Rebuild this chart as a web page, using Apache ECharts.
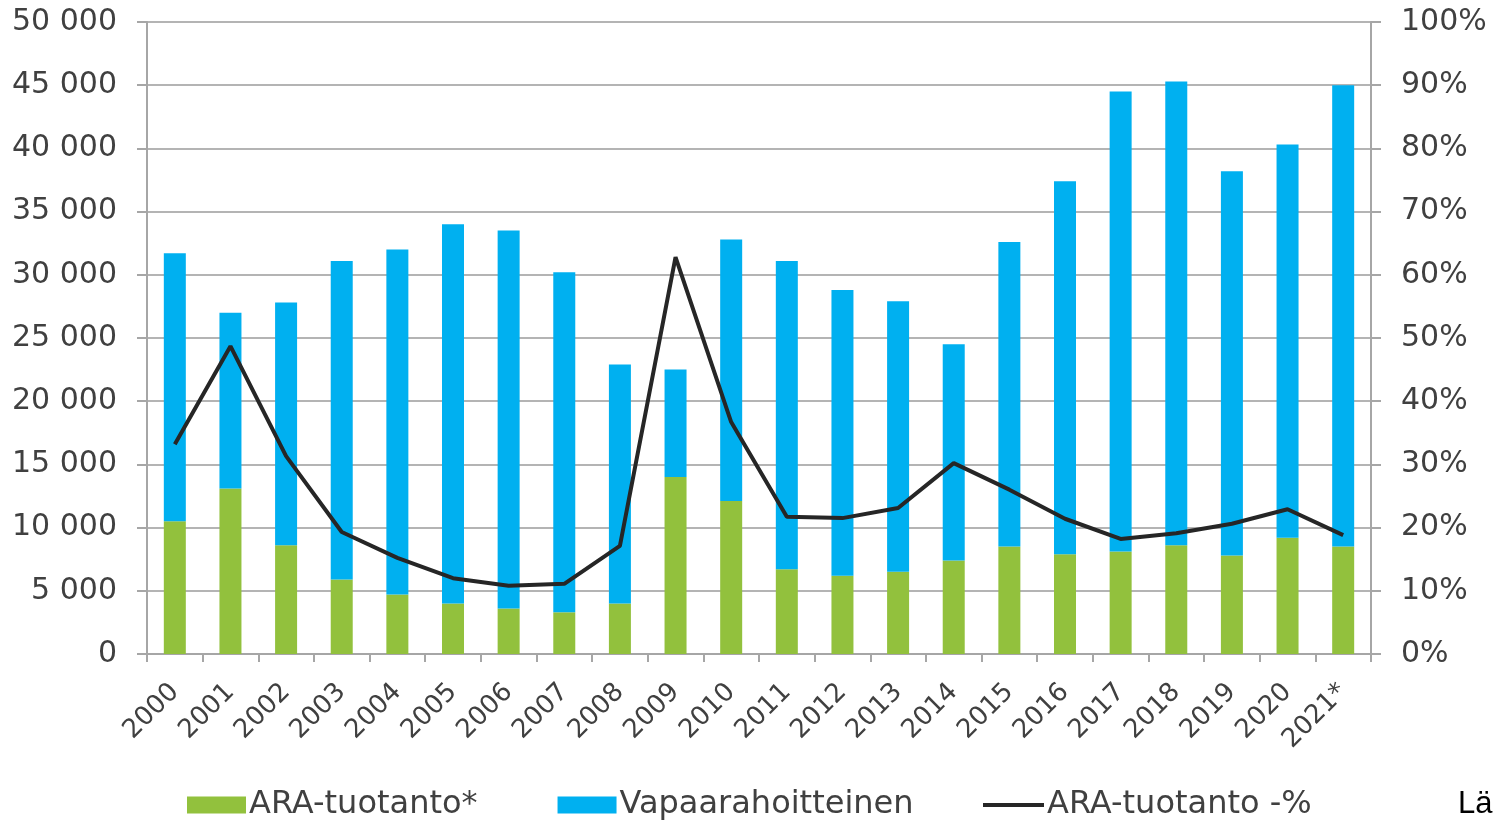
<!DOCTYPE html>
<html>
<head>
<meta charset="utf-8">
<script src="https://cdn.jsdelivr.net/npm/echarts@6/dist/echarts.min.js"></script>
<style>
  html, body { margin: 0; padding: 0; background: #fff; }
  #chart { width: 1494px; height: 821px; }
</style>
</head>
<body>
<div id="chart"></div>
<script>
// vuodet
const years = ['2000', '2001', '2002', '2003', '2004', '2005', '2006', '2007', '2008', '2009', '2010',
  '2011', '2012', '2013', '2014', '2015', '2016', '2017', '2018', '2019', '2020', '2021*']

// ARA-tuotanto (asuntoa)
const araValues = [10500, 13100, 8600, 5900, 4700, 4000, 3600, 3300, 4000, 14000, 12100,
  6700, 6200, 6500, 7400, 8500, 7900, 8100, 8600, 7800, 9200, 8500]

// koko tuotanto, pinon yläreuna
const totalValues = [31700, 27000, 27800, 31100, 32000, 34000, 33500, 30200, 22900, 22500, 32800,
  31100, 28800, 27900, 24500, 32600, 37400, 44500, 45300, 38200, 40300, 45000]

// vapaarahoitteinen = koko - ARA
const freeValues = totalValues.map((t, i) => t - araValues[i])

// ARA-osuus %
const araShare = [33.2, 48.7, 31.3, 19.3, 15.2, 12.0, 10.8, 11.1, 17.1, 62.8, 36.7,
  21.7, 21.5, 23.1, 30.2, 26.0, 21.4, 18.2, 19.1, 20.6, 22.9, 18.8]

const chart = echarts.init(document.getElementById('chart'))

const axisColor = '#a6a6a6'
const textColor = '#404040'
const font = 'DejaVu Sans'
const legendText = { fontSize: 32, color: textColor, fontFamily: font, padding: [0, 0, 0, -2] }

chart.setOption({
  animation: false,
  textStyle: { fontFamily: font },
  grid: { left: 147, right: 123, top: 22, bottom: 167, containLabel: false },
  legend: [
    {
      // pylväät
      top: 789,
      left: 187,
      padding: 0,
      itemWidth: 59,
      itemHeight: 17,
      itemGap: 80,
      textStyle: legendText,
      data: [
        { name: 'ARA-tuotanto*', icon: 'rect' },
        { name: 'Vapaarahoitteinen', icon: 'rect' }
      ]
    },
    {
      // viiva
      top: 789,
      left: 983,
      padding: 0,
      itemWidth: 61,
      itemHeight: 4,
      textStyle: legendText,
      data: [{ name: 'ARA-tuotanto -%', icon: 'rect' }]
    }
  ],
  xAxis: {
    type: 'category',
    data: years,
    axisLine: { lineStyle: { color: axisColor, width: 2 } },
    axisTick: { show: true, length: 8, lineStyle: { color: axisColor, width: 2 } },
    axisLabel: { rotate: 45, fontSize: 26, color: textColor, margin: 34, interval: 0 }
  },
  yAxis: [
    {
      type: 'value',
      min: 0,
      max: 50000,
      interval: 5000,
      axisLine: { show: true, lineStyle: { color: axisColor, width: 2 } },
      axisTick: { show: true, length: 10, lineStyle: { color: axisColor, width: 2 } },
      splitLine: { lineStyle: { color: '#b4b4b4', width: 2 } },
      axisLabel: {
        fontSize: 30,
        color: textColor,
        margin: 30,
        formatter: v => String(v).replace(/\B(?=(\d{3})+(?!\d))/g, ' ')
      }
    },
    {
      type: 'value',
      min: 0,
      max: 100,
      interval: 10,
      axisLine: { show: true, lineStyle: { color: axisColor, width: 2 } },
      axisTick: { show: true, length: 10, lineStyle: { color: axisColor, width: 2 } },
      splitLine: { show: false },
      axisLabel: { fontSize: 30, color: textColor, margin: 30, formatter: '{value}%' }
    }
  ],
  series: [
    {
      name: 'ARA-tuotanto*',
      type: 'bar',
      stack: 'tuotanto',
      barWidth: 22,
      itemStyle: { color: '#92c13d' },
      data: araValues
    },
    {
      name: 'Vapaarahoitteinen',
      type: 'bar',
      stack: 'tuotanto',
      barWidth: 22,
      itemStyle: { color: '#00b0f0' },
      data: freeValues
    },
    {
      name: 'ARA-tuotanto -%',
      type: 'line',
      yAxisIndex: 1,
      symbol: 'none',
      lineStyle: { color: '#262626', width: 4 },
      itemStyle: { color: '#262626' },
      data: araShare
    }
  ],
  graphic: [
    {
      type: 'text',
      left: 1458,
      top: 789,
      style: { text: 'Lä', fontSize: 31, fontFamily: 'Liberation Sans', fill: '#000' }
    }
  ]
})
</script>
</body>
</html>
